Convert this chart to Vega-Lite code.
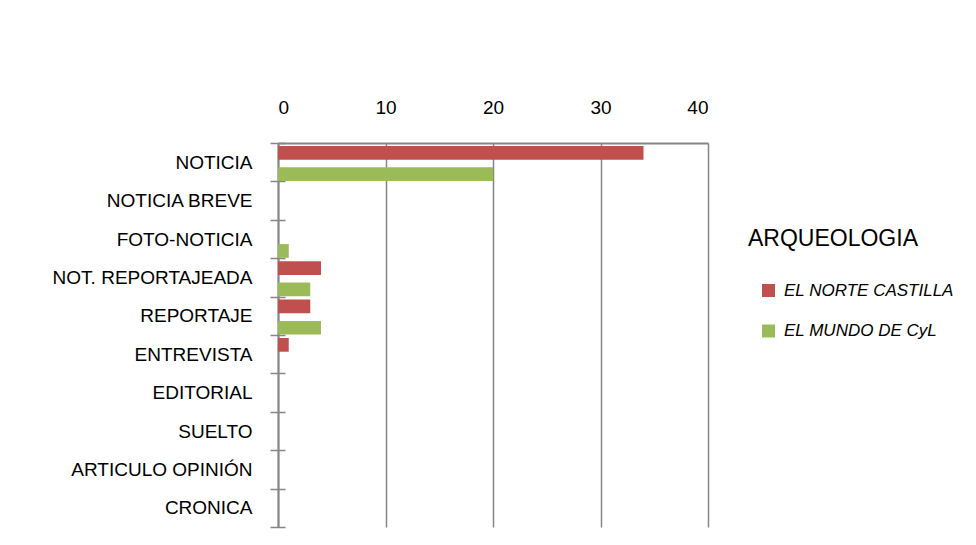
{
  "$schema": "https://vega.github.io/schema/vega-lite/v6.json",
  "width": 430,
  "height": 384,
  "autosize": {"type": "none"},
  "padding": {"left": 278, "top": 143, "right": 268, "bottom": 18},
  "background": "white",
  "config": {
    "view": {"stroke": null},
    "font": "Liberation Sans"
  },
  "data": {
    "values": [
      {"tipo": "NOTICIA", "serie": "EL NORTE CASTILLA", "valor": 34},
      {"tipo": "NOTICIA", "serie": "EL MUNDO  DE CyL", "valor": 20},
      {"tipo": "NOTICIA BREVE", "serie": "EL NORTE CASTILLA", "valor": 0},
      {"tipo": "NOTICIA BREVE", "serie": "EL MUNDO  DE CyL", "valor": 0},
      {"tipo": "FOTO-NOTICIA", "serie": "EL NORTE CASTILLA", "valor": 0},
      {"tipo": "FOTO-NOTICIA", "serie": "EL MUNDO  DE CyL", "valor": 1},
      {"tipo": "NOT. REPORTAJEADA", "serie": "EL NORTE CASTILLA", "valor": 4},
      {"tipo": "NOT. REPORTAJEADA", "serie": "EL MUNDO  DE CyL", "valor": 3},
      {"tipo": "REPORTAJE", "serie": "EL NORTE CASTILLA", "valor": 3},
      {"tipo": "REPORTAJE", "serie": "EL MUNDO  DE CyL", "valor": 4},
      {"tipo": "ENTREVISTA", "serie": "EL NORTE CASTILLA", "valor": 1},
      {"tipo": "ENTREVISTA", "serie": "EL MUNDO  DE CyL", "valor": 0},
      {"tipo": "EDITORIAL", "serie": "EL NORTE CASTILLA", "valor": 0},
      {"tipo": "EDITORIAL", "serie": "EL MUNDO  DE CyL", "valor": 0},
      {"tipo": "SUELTO", "serie": "EL NORTE CASTILLA", "valor": 0},
      {"tipo": "SUELTO", "serie": "EL MUNDO  DE CyL", "valor": 0},
      {"tipo": "ARTICULO OPINIÓN", "serie": "EL NORTE CASTILLA", "valor": 0},
      {"tipo": "ARTICULO OPINIÓN", "serie": "EL MUNDO  DE CyL", "valor": 0},
      {"tipo": "CRONICA", "serie": "EL NORTE CASTILLA", "valor": 0},
      {"tipo": "CRONICA", "serie": "EL MUNDO  DE CyL", "valor": 0}
    ]
  },
  "layer": [
    {
      "mark": {"type": "bar"},
      "encoding": {
        "y": {
          "field": "tipo",
          "type": "nominal",
          "sort": ["NOTICIA", "NOTICIA BREVE", "FOTO-NOTICIA", "NOT. REPORTAJEADA", "REPORTAJE", "ENTREVISTA", "EDITORIAL", "SUELTO", "ARTICULO OPINIÓN", "CRONICA"],
          "scale": {"paddingInner": 0, "paddingOuter": 0},
          "axis": {
            "orient": "left",
            "title": null,
            "labelFont": "Liberation Sans",
            "labelFontSize": 19,
            "labelColor": "#000000",
            "labelPadding": 18,
            "labelLimit": 400,
            "tickSize": 8,
            "tickColor": "#868686",
            "tickWidth": 1.5,
            "tickBand": "extent",
            "domainColor": "#868686",
            "domainWidth": 2,
            "grid": false
          }
        },
        "x": {
          "field": "valor",
          "type": "quantitative",
          "scale": {"domain": [0, 40], "nice": false},
          "axis": {
            "orient": "top",
            "title": null,
            "values": [0, 10, 20, 30, 40],
            "tickSize": 0,
            "labelPadding": 26,
            "labelFont": "Liberation Sans",
            "labelFontSize": 19,
            "labelColor": "#000000",
            "grid": true,
            "gridColor": "#868686",
            "gridWidth": 1.5,
            "domainColor": "#868686",
            "domainWidth": 2
          }
        },
        "yOffset": {
          "field": "serie",
          "type": "nominal",
          "sort": ["EL NORTE CASTILLA", "EL MUNDO  DE CyL"],
          "scale": {"range": [3, 38], "paddingInner": 0.355, "paddingOuter": 0}
        },
        "color": {
          "field": "serie",
          "type": "nominal",
          "sort": ["EL NORTE CASTILLA", "EL MUNDO  DE CyL"],
          "scale": {"domain": ["EL NORTE CASTILLA", "EL MUNDO  DE CyL"], "range": ["#C0504D", "#9BBB59"]},
          "legend": {
            "orient": "none",
            "legendX": 470,
            "legendY": 85,
            "title": "ARQUEOLOGIA",
            "titleFont": "Liberation Sans",
            "titleFontSize": 23,
            "titleFontWeight": "normal",
            "titleColor": "#000000",
            "titlePadding": 31,
            "titleLimit": 400,
            "symbolType": "square",
            "symbolSize": 169,
            "symbolStrokeWidth": 0,
            "symbolOffset": 12,
            "labelFont": "Liberation Sans",
            "labelFontSize": 17,
            "labelFontStyle": "italic",
            "labelColor": "#000000",
            "labelOffset": 7,
            "labelLimit": 400,
            "rowPadding": 22.5
          }
        }
      }
    },
    {
      "mark": {"type": "tick", "opacity": 0},
      "encoding": {
        "y": {
          "field": "tipo",
          "type": "nominal",
          "sort": ["NOTICIA", "NOTICIA BREVE", "FOTO-NOTICIA", "NOT. REPORTAJEADA", "REPORTAJE", "ENTREVISTA", "EDITORIAL", "SUELTO", "ARTICULO OPINIÓN", "CRONICA"],
          "axis": {
            "orient": "right",
            "offset": -430,
            "title": null,
            "labels": false,
            "domain": false,
            "grid": false,
            "tickSize": 7,
            "tickColor": "#868686",
            "tickWidth": 1.5,
            "tickBand": "extent"
          }
        }
      }
    }
  ],
  "resolve": {"axis": {"y": "independent"}}
}
